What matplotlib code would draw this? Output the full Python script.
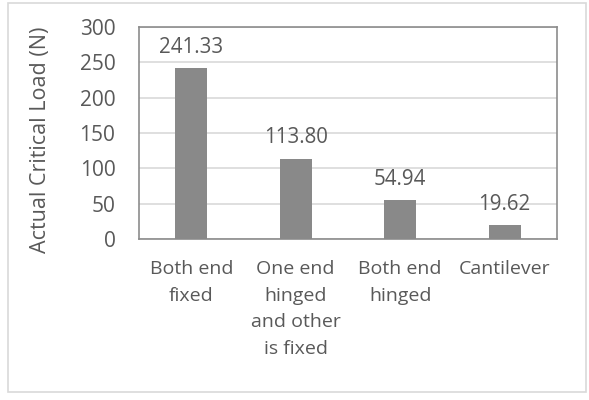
import numpy as np
import matplotlib.pyplot as plt
from matplotlib.patches import Rectangle

categories = ['Both end\nfixed', 'One end\nhinged\nand other\nis fixed', 'Both end\nhinged', 'Cantilever']
loads = [241.33, 113.80, 54.94, 19.62]
yticks = [0, 50, 100, 150, 200, 250, 300]

plt.rcParams['font.family'] = ['Open Sans', 'DejaVu Sans']
txt = '#595959'

fig = plt.figure(figsize=(5.89, 4.0), dpi=100)
# outer chart border
fig.patches.append(Rectangle((8/589, 1-392/400), 578/589, 389/400, transform=fig.transFigure,
                             fill=False, edgecolor='#d9d9d9', linewidth=1.2))
ax = fig.add_axes([139/589, 1-239/400, 418/589, 212/400])

x = np.arange(len(categories))
ax.bar(x, loads, width=0.31, color='#898989', zorder=3)
for xi, v in zip(x, loads):
    ax.text(xi, v + 15, '%.2f' % v, ha='center', va='bottom', fontsize=14.8, color=txt)

ax.set_xlim(-0.5, len(categories) - 0.5)
ax.set_ylim(0, 300)
ax.set_yticks(yticks)
ax.set_xticks(x)
ax.set_xticklabels(categories, fontsize=14, color=txt, linespacing=1.62)
ax.tick_params(axis='y', labelsize=15, labelcolor=txt, length=0, pad=17)
ax.tick_params(axis='x', length=0, pad=15)
ax.grid(axis='y', color='#d9d9d9', linewidth=1.2, zorder=0)
for s in ax.spines.values():
    s.set_color('#8c8c8c')
    s.set_linewidth(1.2)
ax.set_ylabel('Actual Critical Load (N)', fontsize=15.5, color=txt)
ax.yaxis.set_label_coords(-0.21, 0.47)

fig.savefig('out.png', dpi=100)
